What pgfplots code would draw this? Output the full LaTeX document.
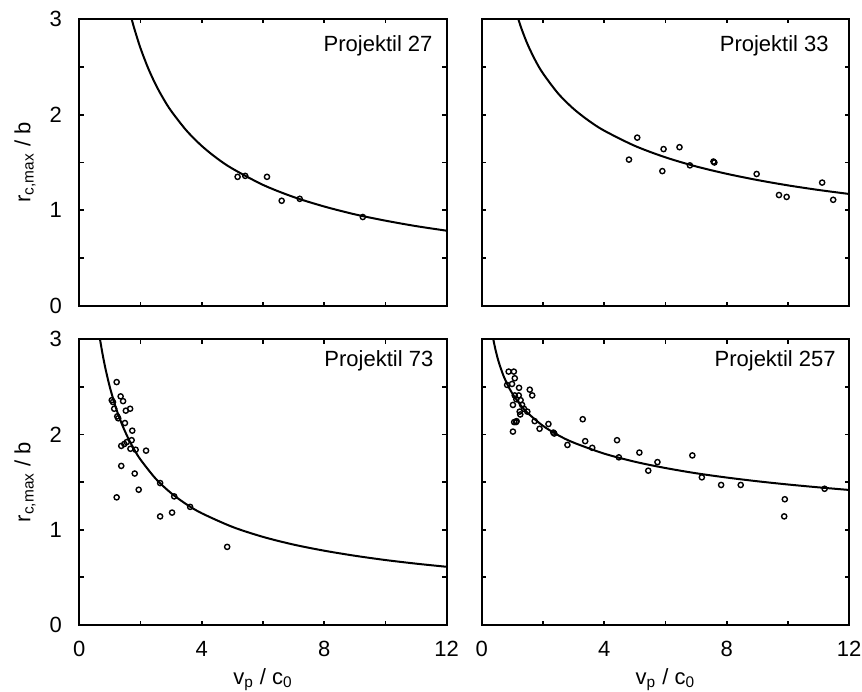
\documentclass[border=0pt]{standalone}
\usepackage{fontspec}
\setmainfont{Liberation Sans}
\usepackage{pgfplots}
\pgfplotsset{compat=1.18}
\pgfplotsset{
  panel/.style={
    scale only axis,
    width=183.7pt,
    xmin=0, xmax=12, ymin=0, ymax=3,
    xtick={0,4,8,12}, minor xtick={2,6,10},
    ytick={0,1,2,3}, minor ytick={0.5,1.5,2.5},
    tick align=inside,
    major tick length=2.2pt, minor tick length=2.2pt,
    axis line style={line width=1.1pt},
    tick style={black, line width=0.9pt},
    /pgf/number format/assume math mode=true,
    tick label style={font=\fontsize{11}{13}\selectfont, inner sep=0pt},
    xticklabel style={yshift=-8pt},
    yticklabel style={xshift=-8.5pt},
    label style={font=\fontsize{11}{13}\selectfont},
    xlabel style={at={(axis description cs:0.5,0)}, anchor=base, yshift=-29.8pt},
    ylabel style={at={(axis description cs:-0.148,0.5)}, anchor=center},
  },
  fit/.style={no marks, black, line width=1pt, smooth},
  pts/.style={only marks, mark=o, mark size=1.3pt, mark options={line width=0.7pt, black}},
}
\tikzset{lab/.style={anchor=north east, inner sep=0pt, font=\fontsize{11}{13}\selectfont}}
\begin{document}
\begin{tikzpicture}
% ---------- top left ----------
\begin{axis}[panel, height=143.5pt, at={(39.65pt,192.5pt)}, anchor=south west,
  xticklabels={}, ylabel={r\textsubscript{c,max} / b}]
\addplot[fit] coordinates {
(1.71,3.000) (1.8,2.896) (2,2.694) (2.25,2.485) (2.5,2.311) (2.75,2.165)
(3,2.039) (3.5,1.834) (4,1.673) (4.5,1.543) (5,1.436) (6,1.266) (7,1.139)
(8,1.040) (9,0.958) (10,0.892) (11,0.835) (12,0.787)};
\addplot[pts] coordinates {
(5.17,1.35) (5.42,1.36) (6.13,1.35) (6.61,1.10) (7.20,1.12) (9.26,0.93)};
\node[lab, xshift=-6.9pt, yshift=-8pt] at (rel axis cs:1,1) {Projektil 27};
\end{axis}
% ---------- top right ----------
\begin{axis}[panel, height=143.5pt, at={(240.85pt,192.5pt)}, anchor=south west,
  xticklabels={}, yticklabels={}]
\addplot[fit] coordinates {
(1.195,3.000) (1.3,2.898) (1.5,2.734) (1.75,2.568) (2,2.432) (2.5,2.220)
(3,2.061) (3.5,1.936) (4,1.833) (5,1.674) (6,1.554) (7,1.459) (8,1.382)
(9,1.317) (10,1.261) (11,1.213) (12,1.171)};
\addplot[pts] coordinates {
(4.81,1.53) (5.08,1.76) (5.94,1.64) (5.90,1.41) (6.46,1.66) (6.80,1.47)
(7.57,1.51) (7.60,1.50) (8.98,1.38) (9.71,1.16) (9.96,1.14) (11.12,1.29)
(11.48,1.11)};
\node[lab, xshift=-10pt, yshift=-8pt] at (rel axis cs:1,1) {Projektil 33};
\end{axis}
% ---------- bottom left ----------
\begin{axis}[panel, height=142.9pt, at={(39.65pt,33pt)}, anchor=south west,
  xlabel={v\textsubscript{p} / c\textsubscript{0}}, ylabel={r\textsubscript{c,max} / b}]
\addplot[fit] coordinates {
(0.676,3.000) (0.75,2.861) (0.85,2.698) (1.0,2.494) (1.2,2.276) (1.4,2.102)
(1.6,1.959) (1.8,1.839) (2.0,1.736) (2.5,1.534) (3.0,1.384) (3.5,1.267)
(4.0,1.173) (5.0,1.030) (6.0,0.925) (7.0,0.844) (8.0,0.780) (9.0,0.727)
(10,0.682) (11,0.644) (12,0.611)};
\addplot[pts] coordinates {
(1.06,2.36) (1.10,2.34) (1.14,2.27) (1.22,2.55) (1.35,2.40) (1.43,2.35)
(1.52,2.25) (1.66,2.27) (1.24,2.19) (1.27,2.17) (1.49,2.12) (1.73,2.04)
(1.71,1.94) (1.37,1.88) (1.47,1.90) (1.55,1.92) (1.67,1.85) (1.84,1.84)
(2.18,1.83) (1.37,1.67) (1.81,1.59) (2.64,1.49) (1.94,1.42) (1.22,1.34)
(3.10,1.35) (3.62,1.24) (2.64,1.14) (3.03,1.18) (4.83,0.82)};
\node[lab, xshift=-6.5pt, yshift=-5.7pt] at (rel axis cs:1,1) {Projektil 73};
\end{axis}
% ---------- bottom right ----------
\begin{axis}[panel, height=142.9pt, at={(240.85pt,33pt)}, anchor=south west,
  xlabel={v\textsubscript{p} / c\textsubscript{0}}, yticklabels={}]
\addplot[fit] coordinates {
(0.379,3.000) (0.45,2.890) (0.55,2.767) (0.7,2.626) (0.85,2.518) (1.0,2.430)
(1.25,2.316) (1.5,2.226) (2.0,2.091) (2.5,1.992) (3,1.915) (4,1.799)
(5,1.714) (6,1.648) (7,1.593) (8,1.548) (9,1.509) (10,1.475) (11,1.445)
(12,1.4175)};
\addplot[pts] coordinates {
(0.88,2.66) (1.05,2.66) (1.08,2.59) (0.83,2.52) (0.99,2.53) (1.22,2.49)
(1.57,2.47) (1.65,2.41) (1.08,2.41) (1.21,2.41) (1.13,2.37) (1.27,2.36)
(1.02,2.31) (1.32,2.31) (1.38,2.27) (1.24,2.24) (1.49,2.24) (1.26,2.21)
(1.06,2.13) (1.12,2.13) (1.14,2.14) (1.02,2.03) (1.73,2.14) (1.89,2.06)
(2.18,2.11) (2.34,2.02) (2.37,2.01) (2.80,1.89) (3.30,2.16) (3.38,1.93)
(3.61,1.86) (4.42,1.94) (4.48,1.76) (5.15,1.81) (5.44,1.62) (5.74,1.71)
(6.88,1.78) (7.19,1.55) (7.82,1.47) (8.46,1.47) (9.90,1.32) (9.88,1.14)
(11.20,1.43)};
\node[lab, xshift=-6.5pt, yshift=-5.7pt] at (rel axis cs:1,1) {Projektil 257};
\end{axis}
\pgfresetboundingbox
\path[use as bounding box] (0,0) rectangle (431pt,345.5pt);
\end{tikzpicture}
\end{document}
